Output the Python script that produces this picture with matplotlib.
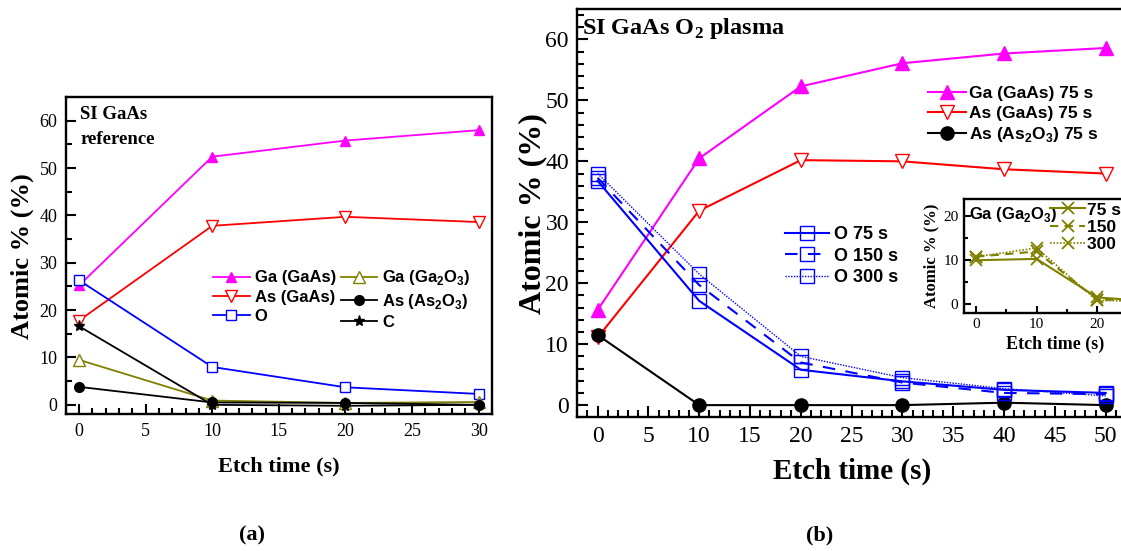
import matplotlib
matplotlib.use("Agg")
import matplotlib.pyplot as plt
from matplotlib.ticker import MultipleLocator

plt.rcParams['font.family'] = ['Liberation Serif', 'DejaVu Serif']
plt.rcParams['mathtext.fontset'] = 'custom'
plt.rcParams['mathtext.bf'] = 'Liberation Serif:bold'
plt.rcParams['mathtext.sf'] = 'Liberation Sans:bold'
plt.rcParams['mathtext.rm'] = 'Liberation Serif'

MAG = '#ff00ff'
RED = '#ff0000'
BLUE = '#0000ff'
OLIVE = '#808000'
BLACK = '#000000'

# (a) reference sample
t_ref = [0, 10, 20, 30]
ga_gaas_ref = [25.2, 52.4, 55.8, 58.0]
as_gaas_ref = [17.8, 37.8, 39.7, 38.6]
o_ref = [26.3, 8.0, 3.7, 2.3]
ga_ga2o3_ref = [9.5, 0.9, 0.4, 0.6]
as_as2o3_ref = [3.8, 0.5, 0.4, 0.0]
c_ref = [16.6, 0.0, -0.2, 0.0]

# (b) O2 plasma treated
t_pl = [0, 10, 20, 30, 40, 50]
ga_gaas_75 = [15.6, 40.5, 52.3, 56.1, 57.7, 58.6]
as_gaas_75 = [11.1, 31.9, 40.2, 40.0, 38.7, 38.0]
as_as2o3_75 = [11.5, 0.0, 0.0, 0.0, 0.4, 0.0]
o_75 = [36.8, 17.1, 5.8, 3.9, 2.5, 2.0]
o_150 = [37.3, 19.7, 7.0, 3.7, 2.0, 1.8]
o_300 = [38.0, 21.5, 8.0, 4.5, 2.7, 1.5]

# inset: Ga (Ga2O3)
t_in = [0, 10, 20, 30]
ga2o3_75 = [10.0, 10.3, 1.5, 0.5]
ga2o3_150 = [10.8, 12.0, 1.0, 0.8]
ga2o3_300 = [10.8, 12.8, 0.8, 0.6]

W, H = 1121, 551
fig = plt.figure(figsize=(W / 100, H / 100), dpi=100)


def px_axes(x0, y0, x1, y1):
    return fig.add_axes([x0 / W, 1 - y1 / H, (x1 - x0) / W, (y1 - y0) / H])


def style_axes(ax, size, major_len=7, minor_len=4):
    for s in ax.spines.values():
        s.set_linewidth(1.7)
    ax.tick_params(which='both', direction='in', top=False, right=False, width=1.5, labelsize=size, pad=6)
    ax.tick_params(which='major', length=major_len)
    ax.tick_params(which='minor', length=minor_len)


# ---------- (a) ----------
ax1 = px_axes(65.7, 97, 492, 414.3)
ax1.set_xlim(-1, 31)
ax1.set_ylim(-2, 65)
ms = 7
lw = 1.3
ax1.plot(t_ref, ga_gaas_ref, color=MAG, marker='^', ms=ms, lw=lw, label='Ga (GaAs)')
ax1.plot(t_ref, as_gaas_ref, color=RED, marker='v', ms=ms + 1, mfc='white', lw=lw, label='As (GaAs)')
ax1.plot(t_ref, o_ref, color=BLUE, marker='s', ms=ms, mfc='white', lw=lw, label='O')
ax1.plot(t_ref, ga_ga2o3_ref, color=OLIVE, marker='^', ms=ms + 1, mfc='white', lw=lw,
         label='Ga (Ga$_\\mathsf{2}$O$_\\mathsf{3}$)')
ax1.plot(t_ref, as_as2o3_ref, color=BLACK, marker='o', ms=ms, lw=lw,
         label='As (As$_\\mathsf{2}$O$_\\mathsf{3}$)')
ax1.plot(t_ref, c_ref, color=BLACK, marker='*', ms=ms + 1, lw=lw, label='C')
ax1.xaxis.set_major_locator(MultipleLocator(5))
ax1.xaxis.set_minor_locator(MultipleLocator(1))
ax1.yaxis.set_major_locator(MultipleLocator(10))
ax1.yaxis.set_minor_locator(MultipleLocator(5))
style_axes(ax1, 13)
ax1.set_xlabel('Etch time (s)', fontsize=16, fontweight='bold', labelpad=12)
ax1.set_ylabel('Atomic % (%)', fontsize=19, fontweight='bold', labelpad=4)
ax1.text(0.1, 61.4, 'SI GaAs', fontsize=13.5, fontweight='bold', va='center')
ax1.text(0.1, 56.1, 'reference', fontsize=13.5, fontweight='bold', va='center')
ax1.legend(loc='center', bbox_to_anchor=(0.648, 0.363), ncol=2, frameon=False,
           prop={'family': 'Liberation Sans', 'weight': 'bold', 'size': 12},
           handlelength=2.2, handletextpad=0.3, columnspacing=0.3, labelspacing=0.25,
           borderpad=0)

# ---------- (b) ----------
ax2 = px_axes(577.3, 9, 1126, 417.3)
ax2.set_xlim(-2, 52)
ax2.set_ylim(-2, 65)
ms = 9.5
lw = 1.5
l1, = ax2.plot(t_pl, ga_gaas_75, color=MAG, marker='^', ms=ms, lw=lw, label='Ga (GaAs) 75 s')
l2, = ax2.plot(t_pl, as_gaas_75, color=RED, marker='v', ms=ms + 1, mfc='white', lw=lw, label='As (GaAs) 75 s')
l3, = ax2.plot(t_pl, as_as2o3_75, color=BLACK, marker='o', ms=ms, lw=lw,
               label='As (As$_\\mathsf{2}$O$_\\mathsf{3}$) 75 s')
o1, = ax2.plot(t_pl, o_75, color=BLUE, marker='s', ms=ms, mfc='none', lw=lw, ls='-', label='O 75 s')
o2, = ax2.plot(t_pl, o_150, color=BLUE, marker='s', ms=ms, mfc='none', lw=lw, ls=(0, (6, 5)), label='O 150 s')
o3, = ax2.plot(t_pl, o_300, color=BLUE, marker='s', ms=ms, mfc='none', lw=1.0, ls=(0, (1, 1)), label='O 300 s')
ax2.xaxis.set_major_locator(MultipleLocator(5))
ax2.xaxis.set_minor_locator(MultipleLocator(1))
ax2.yaxis.set_major_locator(MultipleLocator(10))
ax2.yaxis.set_minor_locator(MultipleLocator(2))
style_axes(ax2, 17, major_len=8, minor_len=5)
ax2.set_xlabel('Etch time (s)', fontsize=21, fontweight='bold', labelpad=8)
ax2.set_ylabel('Atomic % (%)', fontsize=23, fontweight='bold', labelpad=-1)
ax2.text(-1.5, 61.8, 'SI GaAs O$_\\mathbf{2}$ plasma', fontsize=17.5, fontweight='bold', va='center')
leg_a = ax2.legend(handles=[l1, l2, l3], loc='center', bbox_to_anchor=(0.794, 0.740), frameon=False,
                   prop={'family': 'Liberation Sans', 'weight': 'bold', 'size': 12.5},
                   handlelength=2.2, handletextpad=0.2, labelspacing=0.25, borderpad=0)
ax2.add_artist(leg_a)
ax2.legend(handles=[o1, o2, o3], loc='center', bbox_to_anchor=(0.482, 0.395), frameon=False,
           prop={'family': 'Liberation Sans', 'weight': 'bold', 'size': 13},
           handlelength=2.4, handletextpad=0.3, labelspacing=0.25, borderpad=0)

# inset
ax3 = px_axes(964, 199, 1146, 312.7)
ax3.set_xlim(-2, 28.1)
ax3.set_ylim(-2, 24)
ms = 9
a1, = ax3.plot(t_in, ga2o3_75, color=OLIVE, marker='x', ms=ms, mew=1.3, lw=1.5, ls='-', label='75 s')
a2, = ax3.plot(t_in, ga2o3_150, color=OLIVE, marker='x', ms=ms, mew=1.3, lw=1.5, ls=(0, (4, 3)), label='150 s')
a3, = ax3.plot(t_in, ga2o3_300, color=OLIVE, marker='x', ms=ms, mew=1.3, lw=1.2, ls=(0, (1, 1)), label='300 s')
ax3.xaxis.set_major_locator(MultipleLocator(10))
ax3.xaxis.set_minor_locator(MultipleLocator(5))
ax3.yaxis.set_major_locator(MultipleLocator(10))
ax3.yaxis.set_minor_locator(MultipleLocator(5))
style_axes(ax3, 11, major_len=5, minor_len=3)
ax3.tick_params(pad=4)
ax3.set_xlabel('Etch time (s)', fontsize=13, fontweight='bold', labelpad=3)
ax3.set_ylabel('Atomic % (%)', fontsize=12, fontweight='bold', labelpad=3)
ax3.text(0.03, 0.868, 'Ga (Ga$_\\mathsf{2}$O$_\\mathsf{3}$)', transform=ax3.transAxes,
         family='Liberation Sans', fontweight='bold', fontsize=12, va='center')
ax3.legend(handles=[a1, a2, a3], loc='upper left', bbox_to_anchor=(0.475, 0.97), frameon=False,
           prop={'family': 'Liberation Sans', 'weight': 'bold', 'size': 12.5},
           handlelength=2.0, handletextpad=0.1, labelspacing=0.12, borderpad=0, borderaxespad=0)

fig.text(251.7 / W, 1 - 535 / H, '(a)', fontsize=16, fontweight='bold', ha='center', va='center')
fig.text(820 / W, 1 - 535 / H, '(b)', fontsize=16, fontweight='bold', ha='center', va='center')

fig.savefig('out.png', dpi=100)
